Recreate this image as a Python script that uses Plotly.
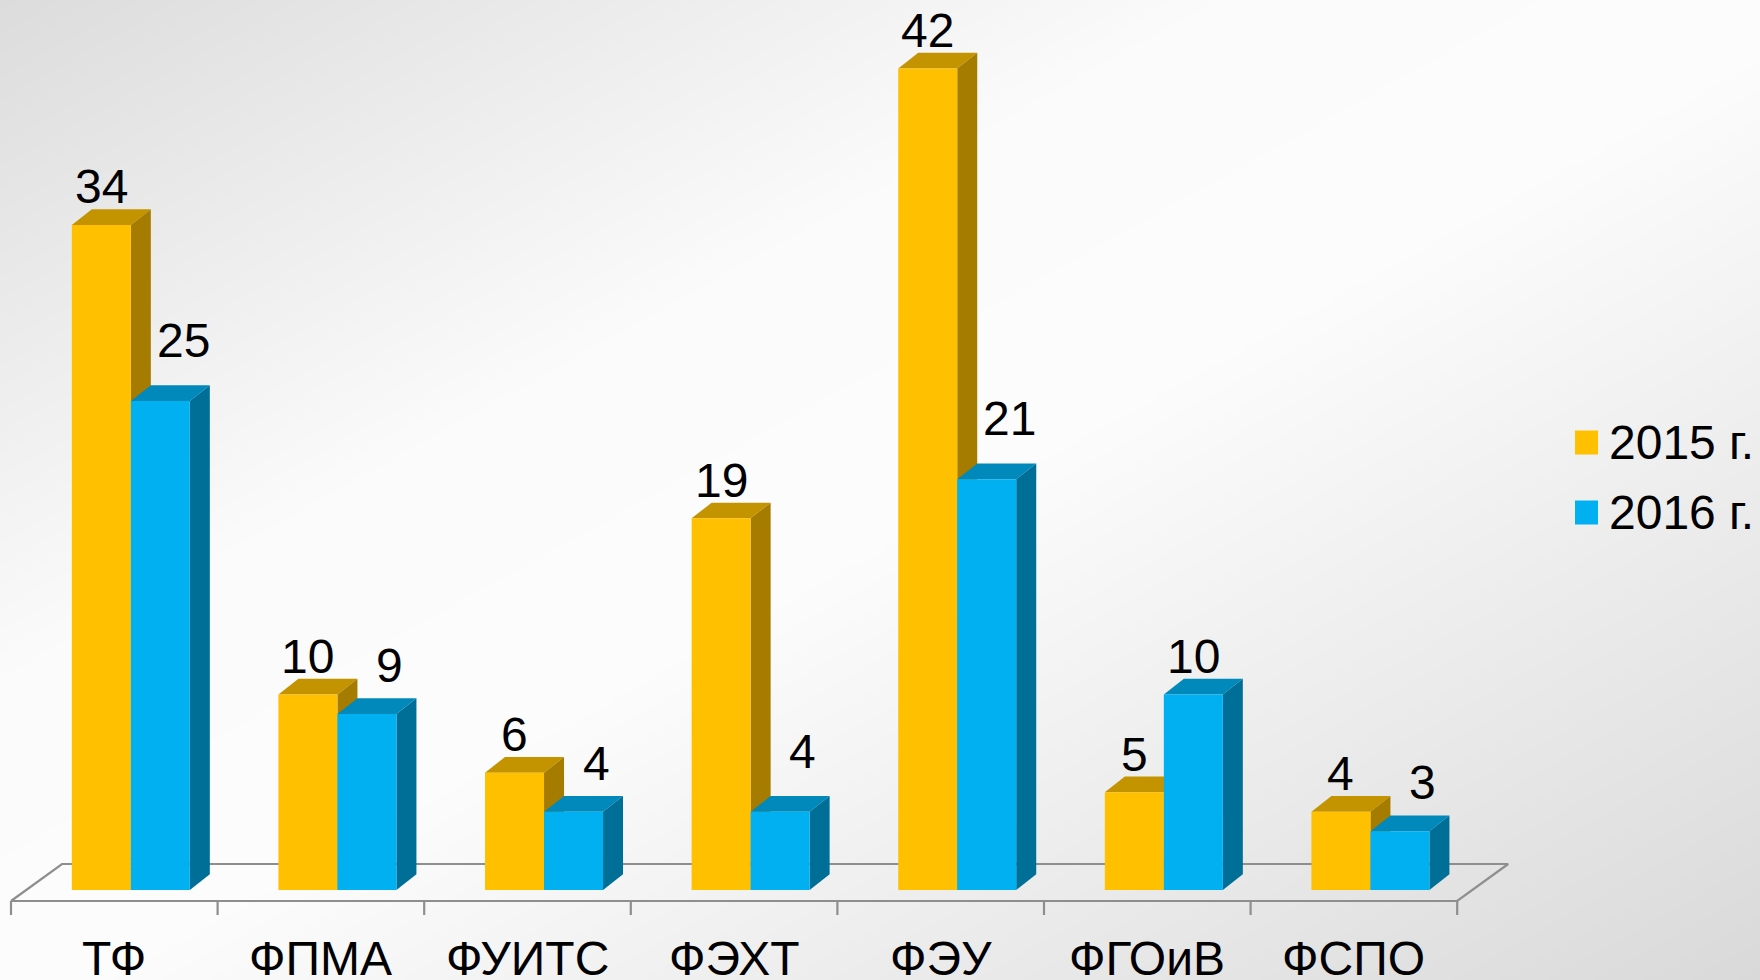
import numpy as np
import plotly.graph_objects as go

# ---------------- data ----------------
categories = ["ТФ", "ФПМА", "ФУИТС", "ФЭХТ", "ФЭУ", "ФГОиВ", "ФСПО"]
series_names = ["2015 г.", "2016 г."]
values_2015 = [34, 10, 6, 19, 42, 5, 4]
values_2016 = [25, 9, 4, 4, 21, 10, 3]

# ---------------- styling / geometry ----------------
W, H = 1760, 980
PX_PER_CAT = 206.6      # pixels per category
X0_PX = 114.3           # pixel x of category 0 centre
PX_PER_UNIT = 19.56     # pixels per value unit
Y0_PX = 890.0           # pixel y of value 0

x_range = [(0 - X0_PX) / PX_PER_CAT, (W - X0_PX) / PX_PER_CAT]
y_range = [(Y0_PX - H) / PX_PER_UNIT, Y0_PX / PX_PER_UNIT]

BAR_W = 0.2856
SHIFT = 0.08
DX = 20 / PX_PER_CAT
DY = 15.7 / PX_PER_UNIT

FLOOR_FRONT = -11 / PX_PER_UNIT
FLOOR_BACK = 26 / PX_PER_UNIT
FLOOR_DX = 51 / PX_PER_CAT
TICK_BOTTOM = -25 / PX_PER_UNIT

FONT = "Liberation Sans, Arial, sans-serif"
FS = 48

colors = {
    "2015 г.": {"front": "#FFC000", "top": "#C49400", "side": "#A67C00"},
    "2016 г.": {"front": "#00B0F0", "top": "#0089BA", "side": "#006F98"},
}
FLOOR_COLOR = "#8E8E8E"

fig = go.Figure()

# ---------------- background gradient ----------------
gx = np.linspace(0, W, 60)
gy = np.linspace(0, H, 40)
PX, PY = np.meshgrid(gx, gy)
t = PX / W + PY / H
g = np.where(t < 0.7, 220 + (251 - 220) * (t / 0.7),
             np.where(t < 1.05, 251 + (t - 0.7) / 0.35,
                      252 - (252 - 217) * (t - 1.05) / 0.95))
fig.add_trace(go.Heatmap(
    x=(gx - X0_PX) / PX_PER_CAT,
    y=(Y0_PX - gy) / PX_PER_UNIT,
    z=g, zmin=0, zmax=255, zsmooth="best",
    colorscale=[[0, "rgb(0,0,0)"], [1, "rgb(255,255,255)"]],
    showscale=False, hoverinfo="skip",
))

# ---------------- floor ----------------
n = len(categories)
xl, xr = -0.5, n - 0.5
floor_x = [xl, xr, xr + FLOOR_DX, xl + FLOOR_DX, xl]
floor_y = [FLOOR_FRONT, FLOOR_FRONT, FLOOR_BACK, FLOOR_BACK, FLOOR_FRONT]
fig.add_trace(go.Scatter(x=floor_x, y=floor_y, mode="lines",
                         line=dict(color=FLOOR_COLOR, width=2.2),
                         hoverinfo="skip", showlegend=False))
tx, ty = [], []
for k in range(n + 1):
    tx += [xl + k, xl + k, None]
    ty += [FLOOR_FRONT, TICK_BOTTOM, None]
fig.add_trace(go.Scatter(x=tx, y=ty, mode="lines",
                         line=dict(color=FLOOR_COLOR, width=2.2),
                         hoverinfo="skip", showlegend=False))


def poly(xs, ys, color):
    fig.add_trace(go.Scatter(x=xs + [xs[0]], y=ys + [ys[0]], mode="lines",
                             fill="toself", fillcolor=color,
                             line=dict(width=0, color=color),
                             hoverinfo="skip", showlegend=False))


annotations = []
series = [values_2015, values_2016]
for s_idx, (name, vals) in enumerate(zip(series_names, series)):
    c = colors[name]
    for i, v in enumerate(vals):
        left = i + SHIFT - BAR_W + s_idx * BAR_W
        right = left + BAR_W
        # top face
        poly([left, right, right + DX, left + DX], [v, v, v + DY, v + DY], c["top"])
        # side face
        poly([right, right + DX, right + DX, right], [0, DY, v + DY, v], c["side"])
        # front face
        poly([left, right, right, left], [0, 0, v, v], c["front"])
        # data label
        lx = (left + right) / 2
        ly = v + DY + 22.5 / PX_PER_UNIT
        if s_idx == 1 and values_2015[i] > v:
            lx += 0.11
            diff = values_2015[i] - v
            ly = v + DY + (45 if diff >= 5 else 33) / PX_PER_UNIT
        annotations.append(dict(x=lx, y=ly, xref="x", yref="y", text=str(v),
                                showarrow=False, xanchor="center", yanchor="middle",
                                font=dict(family=FONT, size=FS, color="black")))

# category labels
for i, cat in enumerate(categories):
    annotations.append(dict(x=i, y=(Y0_PX - 958) / PX_PER_UNIT, xref="x", yref="y",
                            text=cat, showarrow=False, xanchor="center", yanchor="middle",
                            font=dict(family=FONT, size=FS, color="black")))

# legend
shapes = []
legend_rows = [(series_names[0], 442.5), (series_names[1], 512.5)]
for name, cy in legend_rows:
    shapes.append(dict(type="rect", xref="paper", yref="paper",
                       x0=1575 / W, x1=1598 / W,
                       y0=1 - (cy + 12) / H, y1=1 - (cy - 12) / H,
                       fillcolor=colors[name]["front"], line=dict(width=0)))
    annotations.append(dict(x=1607 / W, y=1 - cy / H, xref="paper", yref="paper",
                            text=name, showarrow=False, xanchor="left", yanchor="middle",
                            font=dict(family=FONT, size=FS, color="black")))

fig.update_layout(
    width=W, height=H, autosize=False,
    margin=dict(l=0, r=0, t=0, b=0),
    paper_bgcolor="white", plot_bgcolor="rgba(0,0,0,0)",
    showlegend=False,
    xaxis=dict(range=x_range, visible=False, fixedrange=True),
    yaxis=dict(range=y_range, visible=False, fixedrange=True),
    annotations=annotations, shapes=shapes,
)

fig.write_html(
    "out.html",
    config={"displayModeBar": False},
    post_script="document.body.style.margin='0';document.body.style.overflow='hidden';",
)
